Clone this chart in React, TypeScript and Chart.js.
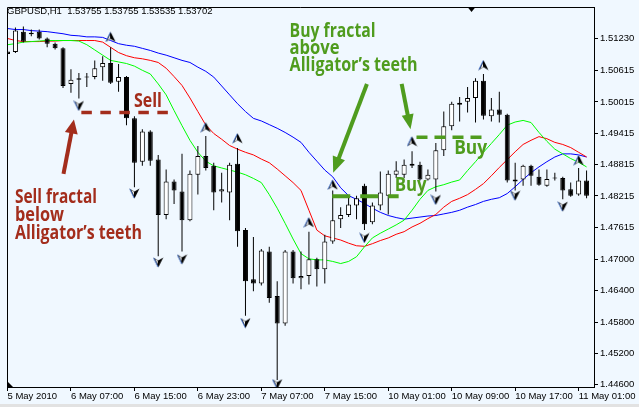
import React, { useEffect, useRef } from 'react';
import { Chart, registerables } from 'chart.js';

Chart.register(...registerables);

// ---------- data ----------
const xTickBars = [0, 8, 16, 24, 32, 40, 48, 56, 64, 72];
const xTickLabels = ['5 May 2010', '6 May 07:00', '6 May 15:00', '6 May 23:00', '7 May 07:00', '7 May 15:00', '10 May 01:00', '10 May 09:00', '10 May 17:00', '11 May 01:00'];
const yTickValues = [1.5123, 1.50615, 1.50015, 1.49415, 1.48815, 1.48215, 1.47615, 1.47, 1.464, 1.458, 1.452, 1.446];

const opens = [
  1.5098, 1.5097, 1.5136, 1.5131, 1.5136, 1.5123, 1.5113, 1.5104, 1.5036, 1.5044,
  1.5048, 1.5049, 1.5068, 1.5076, 1.5040, 1.5049, 1.4970, 1.4887, 1.4945, 1.4891,
  1.4785, 1.4849, 1.4830, 1.4775, 1.4862, 1.4898, 1.4879, 1.4830, 1.4828, 1.4883,
  1.4756, 1.4662, 1.4654, 1.4715, 1.4630, 1.4577, 1.4715, 1.4664, 1.4668, 1.4700,
  1.4681, 1.4734, 1.4777, 1.4785, 1.4803, 1.4841, 1.4771, 1.4803, 1.4822, 1.4862,
  1.4862, 1.4883, 1.4881, 1.4853, 1.4853, 1.4909, 1.4955, 1.4996, 1.5002, 1.5009,
  1.5042, 1.4974, 1.4987, 1.4977, 1.4853, 1.4853, 1.4879, 1.4858, 1.4841, 1.4856,
  1.4856, 1.4834, 1.4824, 1.4851,
];
const highs = [
  1.5104, 1.5144, 1.5146, 1.5140, 1.5140, 1.5125, 1.5115, 1.5106, 1.5064, 1.5057,
  1.5057, 1.5081, 1.5089, 1.5106, 1.5074, 1.5051, 1.4974, 1.4949, 1.4947, 1.4900,
  1.4872, 1.4853, 1.4902, 1.4870, 1.4917, 1.4936, 1.4885, 1.4866, 1.4885, 1.4913,
  1.4760, 1.4743, 1.4720, 1.4724, 1.4658, 1.4718, 1.4718, 1.4715, 1.4753, 1.4703,
  1.4747, 1.4832, 1.4800, 1.4819, 1.4822, 1.4845, 1.4809, 1.4868, 1.4870, 1.4888,
  1.4891, 1.4907, 1.4887, 1.4872, 1.4923, 1.4983, 1.5002, 1.5011, 1.5030, 1.5047,
  1.5055, 1.5009, 1.5021, 1.4979, 1.4885, 1.4881, 1.4881, 1.4872, 1.4872, 1.4866,
  1.4858, 1.4847, 1.4875, 1.4870,
];
const lows = [
  1.5089, 1.5095, 1.5115, 1.5127, 1.5121, 1.5106, 1.5102, 1.5028, 1.5019, 1.5008,
  1.5030, 1.5045, 1.5042, 1.5036, 1.5021, 1.4957, 1.4838, 1.4879, 1.4879, 1.4706,
  1.4777, 1.4806, 1.4715, 1.4773, 1.4824, 1.4870, 1.4794, 1.4809, 1.4775, 1.4724,
  1.4592, 1.4639, 1.4650, 1.4617, 1.4469, 1.4573, 1.4654, 1.4643, 1.4652, 1.4648,
  1.4654, 1.4730, 1.4760, 1.4781, 1.4777, 1.4756, 1.4767, 1.4794, 1.4786, 1.4856,
  1.4856, 1.4875, 1.4851, 1.4851, 1.4830, 1.4898, 1.4947, 1.4964, 1.4981, 1.4962,
  1.4968, 1.4964, 1.4962, 1.4847, 1.4832, 1.4841, 1.4841, 1.4841, 1.4839, 1.4851,
  1.4815, 1.4820, 1.4822, 1.4817,
];
const closes = [
  1.5093, 1.5138, 1.5117, 1.5134, 1.5123, 1.5113, 1.5104, 1.5032, 1.5044, 1.5047,
  1.5049, 1.5066, 1.5076, 1.5038, 1.5049, 1.4970, 1.4885, 1.4945, 1.4889, 1.4785,
  1.4849, 1.4832, 1.4775, 1.4864, 1.4898, 1.4875, 1.4828, 1.4834, 1.4881, 1.4754,
  1.4658, 1.4654, 1.4717, 1.4626, 1.4577, 1.4715, 1.4664, 1.4668, 1.4700, 1.4681,
  1.4734, 1.4775, 1.4785, 1.4805, 1.4817, 1.4767, 1.4803, 1.4828, 1.4864, 1.4870,
  1.4881, 1.4879, 1.4853, 1.4862, 1.4909, 1.4955, 1.4998, 1.5000, 1.5009, 1.5042,
  1.4975, 1.4987, 1.4977, 1.4851, 1.4849, 1.4879, 1.4860, 1.4843, 1.4854, 1.4855,
  1.4832, 1.4822, 1.4851, 1.4822,
];

// Alligator lines
const jaw = [
  1.5142, 1.5140, 1.5140, 1.5138, 1.5137, 1.5136, 1.5134, 1.5132, 1.5129, 1.5128,
  1.5126, 1.5126, 1.5125, 1.5119, 1.5113, 1.5110, 1.5108, 1.5104, 1.5100, 1.5095,
  1.5091, 1.5086, 1.5081, 1.5077, 1.5068, 1.5060, 1.5049, 1.5032, 1.5015, 1.4998,
  1.4983, 1.4970, 1.4965, 1.4958, 1.4951, 1.4943, 1.4934, 1.4924, 1.4905, 1.4888,
  1.4871, 1.4858, 1.4837, 1.4822, 1.4815, 1.4807, 1.4798, 1.4790, 1.4784, 1.4780,
  1.4777, 1.4779, 1.4781, 1.4783, 1.4784, 1.4787, 1.4790, 1.4794, 1.4800, 1.4805,
  1.4811, 1.4815, 1.4818, 1.4826, 1.4839, 1.4853, 1.4866, 1.4877, 1.4887, 1.4896,
  1.4902, 1.4902, 1.4900, 1.4896,
];
const teeth = [
  1.5123, 1.5119, 1.5117, 1.5117, 1.5117, 1.5118, 1.5118, 1.5119, 1.5119, 1.5119,
  1.5119, 1.5119, 1.5116, 1.5106, 1.5096, 1.5090, 1.5086, 1.5084, 1.5081, 1.5077,
  1.5066, 1.5050, 1.5033, 1.5009, 1.4983, 1.4957, 1.4941, 1.4930, 1.4918, 1.4911,
  1.4905, 1.4900, 1.4892, 1.4885, 1.4873, 1.4860, 1.4847, 1.4832, 1.4794, 1.4756,
  1.4745, 1.4741, 1.4737, 1.4731, 1.4726, 1.4725, 1.4730, 1.4736, 1.4741, 1.4748,
  1.4753, 1.4762, 1.4769, 1.4778, 1.4786, 1.4800, 1.4811, 1.4817, 1.4824, 1.4834,
  1.4845, 1.4860, 1.4876, 1.4891, 1.4906, 1.4920, 1.4928, 1.4935, 1.4931, 1.4924,
  1.4920, 1.4914, 1.4905, 1.4896,
];
const lips = [
  1.5111, 1.5113, 1.5116, 1.5117, 1.5118, 1.5119, 1.5119, 1.5119, 1.5119, 1.5118,
  1.5111, 1.5101, 1.5091, 1.5081, 1.5078, 1.5075, 1.5070, 1.5062, 1.5055, 1.5036,
  1.5015, 1.4985, 1.4956, 1.4928, 1.4905, 1.4888, 1.4879, 1.4875, 1.4871, 1.4867,
  1.4862, 1.4855, 1.4847, 1.4824, 1.4798, 1.4769, 1.4739, 1.4711, 1.4701, 1.4699,
  1.4699, 1.4696, 1.4692, 1.4696, 1.4705, 1.4724, 1.4741, 1.4750, 1.4758, 1.4766,
  1.4775, 1.4794, 1.4815, 1.4832, 1.4839, 1.4843, 1.4848, 1.4852, 1.4870, 1.4887,
  1.4905, 1.4922, 1.4939, 1.4957, 1.4963, 1.4966, 1.4962, 1.4943, 1.4926, 1.4911,
  1.4902, 1.4893, 1.4886, 1.4877,
];

// Fractals
const upFractalBars = [13, 25, 29, 38, 41, 51, 60, 72];
const upFractalPrices = [1.5126, 1.4953, 1.4932, 1.4771, 1.4843, 1.4926, 1.5072, 1.4890];
const downFractalBars = [9, 16, 19, 22, 30, 34, 45, 54, 64, 70];
const downFractalPrices = [1.4994, 1.4826, 1.4694, 1.4700, 1.4578, 1.4461, 1.4741, 1.4814, 1.4822, 1.4801];

const headerText = 'GBPUSD,H1  1.53755 1.53755 1.53535 1.53702';

// ---------- styles ----------
const RED = '#A32D1C';
const GREEN = '#4F9C1E';
const BG = '#F0F8FF';
const AXIS_FONT = '"Liberation Sans", Arial, sans-serif';
const NOTE_FONT = '"Open Sans", "Liberation Sans", sans-serif';

function makeFractalIcon(up: boolean): HTMLCanvasElement {
  const c = document.createElement('canvas');
  c.width = 11;
  c.height = 11;
  const g = c.getContext('2d') as CanvasRenderingContext2D;
  if (!up) {
    g.translate(0, 11);
    g.scale(1, -1);
  }
  g.beginPath();
  g.moveTo(5.5, 0.5);
  g.lineTo(10.5, 10.5);
  g.lineTo(5.5, 7.5);
  g.lineTo(0.5, 10.5);
  g.closePath();
  g.fillStyle = '#000';
  g.fill();
  // light left half sliver
  g.beginPath();
  g.moveTo(5, 3.5);
  g.lineTo(5, 7.3);
  g.lineTo(2.3, 9.2);
  g.closePath();
  g.fillStyle = '#ffffff';
  g.fill();
  // blue outer edge on the left leg
  g.beginPath();
  g.moveTo(5.2, 1);
  g.lineTo(0.8, 10.2);
  g.strokeStyle = '#4a78d0';
  g.lineWidth = 1;
  g.stroke();
  return c;
}

function fitText(ctx: any, text: string, x: number, y: number, w: number, size: number, color: string) {
  ctx.save();
  ctx.font = `bold ${size}px ${NOTE_FONT}`;
  ctx.fillStyle = color;
  ctx.textAlign = 'left';
  ctx.textBaseline = 'alphabetic';
  const m = ctx.measureText(text).width;
  ctx.translate(x, y);
  ctx.scale(w / m, 1);
  ctx.fillText(text, 0, 0);
  ctx.restore();
}

function arrow(ctx: any, x1: number, y1: number, x2: number, y2: number, color: string, lw: number, hl: number, hw: number) {
  const a = Math.atan2(y2 - y1, x2 - x1);
  const bx = x2 - hl * Math.cos(a);
  const by = y2 - hl * Math.sin(a);
  ctx.save();
  ctx.strokeStyle = color;
  ctx.fillStyle = color;
  ctx.lineWidth = lw;
  ctx.lineCap = 'butt';
  ctx.beginPath();
  ctx.moveTo(x1, y1);
  ctx.lineTo(bx + Math.cos(a) * 2, by + Math.sin(a) * 2);
  ctx.stroke();
  ctx.beginPath();
  ctx.moveTo(x2, y2);
  ctx.lineTo(bx + (hw / 2) * Math.sin(a), by - (hw / 2) * Math.cos(a));
  ctx.lineTo(bx - (hw / 2) * Math.sin(a), by + (hw / 2) * Math.cos(a));
  ctx.closePath();
  ctx.fill();
  ctx.restore();
}

function dashed(ctx: any, x1: number, x2: number, y: number, color: string, lw: number, dash: number[]) {
  ctx.save();
  ctx.strokeStyle = color;
  ctx.lineWidth = lw;
  ctx.setLineDash(dash);
  ctx.beginPath();
  ctx.moveTo(x1, y);
  ctx.lineTo(x2, y);
  ctx.stroke();
  ctx.restore();
}

export default function App() {
  const ref = useRef<HTMLCanvasElement>(null);

  useEffect(() => {
    document.body.style.margin = '0';
    const canvas = ref.current as HTMLCanvasElement;
    const upIcon = makeFractalIcon(true);
    const downIcon = makeFractalIcon(false);
    const idx = opens.map((_, i) => i);

    const mt4Plugin = {
      id: 'mt4',
      beforeDraw(chart: any) {
        const { ctx, width, height } = chart;
        ctx.save();
        ctx.fillStyle = BG;
        ctx.fillRect(0, 0, width, height);
        ctx.fillStyle = '#E2E2E2';
        ctx.fillRect(0, 404, width, 3);
        ctx.restore();
      },
      afterDraw(chart: any) {
        const ctx = chart.ctx;
        const xs = chart.scales.x;
        const ys = chart.scales.y;
        const X = (b: number) => xs.getPixelForValue(b);
        const Y = (p: number) => ys.getPixelForValue(p);
        const ca = chart.chartArea;
        ctx.save();
        ctx.strokeStyle = '#000';
        ctx.lineWidth = 1;
        ctx.beginPath();
        ctx.moveTo(ca.left + 0.5, ca.bottom);
        ctx.lineTo(ca.left + 0.5, ca.top + 0.5);
        ctx.lineTo(ca.right, ca.top + 0.5);
        ctx.stroke();
        ctx.fillStyle = '#000';
        ctx.beginPath();
        ctx.moveTo(ca.left, ca.bottom - 6);
        ctx.lineTo(ca.left, ca.bottom);
        ctx.lineTo(ca.left + 6, ca.bottom);
        ctx.closePath();
        ctx.fill();
        ctx.beginPath();
        ctx.moveTo(X(58.5) - 4, ca.top);
        ctx.lineTo(X(58.5) + 4, ca.top);
        ctx.lineTo(X(58.5), ca.top + 5);
        ctx.closePath();
        ctx.fill();
        ctx.font = `9.5px ${AXIS_FONT}`;
        ctx.fillStyle = '#000';
        ctx.textBaseline = 'alphabetic';
        ctx.textAlign = 'left';
        ctx.fillText(headerText, 7, 14);
        ctx.restore();

        // Sell annotations
        dashed(ctx, X(9.31), X(20.56), Y(1.49814), RED, 3.5, [10.5, 8.5]);
        fitText(ctx, 'Sell', X(15.94), Y(1.49914), 28, 19, RED);
        arrow(ctx, X(7.06), Y(1.48638), X(8.375), Y(1.49678), RED, 4, 14, 13);
        fitText(ctx, 'Sell fractal', X(0.94), Y(1.48071), 82, 19, RED);
        fitText(ctx, 'below', X(0.94), Y(1.47731), 49, 19, RED);
        fitText(ctx, 'Alligator\u2019s teeth', X(0.94), Y(1.47391), 127, 19, RED);

        // Buy annotations
        fitText(ctx, 'Buy fractal', X(35.56), Y(1.51265), 86, 19, GREEN);
        fitText(ctx, 'above', X(35.56), Y(1.50925), 50, 19, GREEN);
        fitText(ctx, 'Alligator\u2019s teeth', X(35.56), Y(1.50604), 128, 19, GREEN);
        arrow(ctx, X(45.31), Y(1.50358), X(41.06), Y(1.48657), GREEN, 4, 16, 13);
        arrow(ctx, X(49.69), Y(1.50358), X(50.81), Y(1.49489), GREEN, 4, 15, 12);
        dashed(ctx, X(40.94), X(49.31), Y(1.48207), GREEN, 4, [18, 10]);
        fitText(ctx, 'Buy', X(48.81), Y(1.48307), 32, 19, GREEN);
        dashed(ctx, X(51.56), X(60.44), Y(1.49337), GREEN, 3.5, [11, 7]);
        fitText(ctx, 'Buy', X(56.31), Y(1.49026), 33, 19, GREEN);
      },
    };

    const axisCommon = {
      grid: { drawOnChartArea: false, drawTicks: true, tickLength: 4, color: '#000', offset: false },
      border: { display: true, color: '#000', width: 1 },
    };

    const chart = new Chart(canvas, {
      type: 'bar',
      data: {
        datasets: [
          { type: 'line', data: jaw.map((v, i) => ({ x: i, y: v })), borderColor: '#0000FF', borderWidth: 1, pointRadius: 0, tension: 0, order: 5 },
          { type: 'line', data: teeth.map((v, i) => ({ x: i, y: v })), borderColor: '#FF0000', borderWidth: 1, pointRadius: 0, tension: 0, order: 4 },
          { type: 'line', data: lips.map((v, i) => ({ x: i, y: v })), borderColor: '#00FF00', borderWidth: 1, pointRadius: 0, tension: 0, order: 3 },
          {
            type: 'bar',
            data: idx.map((i) => ({ x: i, y: [lows[i], highs[i]] })),
            backgroundColor: '#000000',
            borderWidth: 0,
            barThickness: 1,
            grouped: false,
            inflateAmount: 0,
            order: 2,
          },
          {
            type: 'bar',
            data: idx.map((i) => ({ x: i, y: [opens[i], closes[i]] })),
            backgroundColor: idx.map((i) => (closes[i] > opens[i] ? '#FFFFFF' : '#000000')),
            borderColor: '#000000',
            borderWidth: 1,
            borderSkipped: false,
            barThickness: 5,
            grouped: false,
            minBarLength: 1,
            inflateAmount: 0,
            order: 1,
          },
          { type: 'scatter', data: upFractalBars.map((b, i) => ({ x: b, y: upFractalPrices[i] })), pointStyle: upIcon, pointRadius: 6, order: 0 },
          { type: 'scatter', data: downFractalBars.map((b, i) => ({ x: b, y: downFractalPrices[i] })), pointStyle: downIcon, pointRadius: 6, order: 0 },
        ] as any,
      },
      options: {
        responsive: false,
        maintainAspectRatio: false,
        devicePixelRatio: 1,
        animation: false,
        events: [],
        layout: { padding: { left: 2, top: 2, right: 0, bottom: 0 } },
        plugins: { legend: { display: false }, tooltip: { enabled: false } },
        scales: {
          x: {
            type: 'linear',
            position: 'bottom',
            min: -0.0625,
            max: 73.9375,
            offset: false,
            afterBuildTicks: (s: any) => {
              s.ticks = xTickBars.map((v) => ({ value: v }));
            },
            afterFit: (s: any) => {
              s.height = 20;
              s.paddingLeft = 0;
              s.paddingRight = 0;
            },
            ticks: {
              autoSkip: false,
              maxRotation: 0,
              minRotation: 0,
              align: 'start',
              padding: 0,
              color: '#000',
              font: { family: AXIS_FONT, size: 9.5 },
              callback: (v: any) => {
                const k = xTickBars.indexOf(Number(v));
                return k >= 0 ? xTickLabels[k] : '';
              },
            },
            ...axisCommon,
          },
          y: {
            type: 'linear',
            position: 'right',
            min: 1.44556,
            max: 1.51832,
            afterBuildTicks: (s: any) => {
              s.ticks = yTickValues.map((v) => ({ value: v }));
            },
            afterFit: (s: any) => {
              s.width = 45;
              s.paddingTop = 0;
              s.paddingBottom = 0;
            },
            ticks: {
              padding: 2,
              crossAlign: 'near',
              color: '#000',
              font: { family: AXIS_FONT, size: 9.5 },
              callback: (v: any) => Number(v).toFixed(5),
            },
            ...axisCommon,
          },
        } as any,
      },
      plugins: [mt4Plugin],
    } as any);

    return () => chart.destroy();
  }, []);

  return (
    <div style={{ position: 'absolute', left: 0, top: 0, width: 639, height: 407 }}>
      <canvas ref={ref} width={639} height={407} style={{ display: 'block', width: 639, height: 407 }} />
    </div>
  );
}
